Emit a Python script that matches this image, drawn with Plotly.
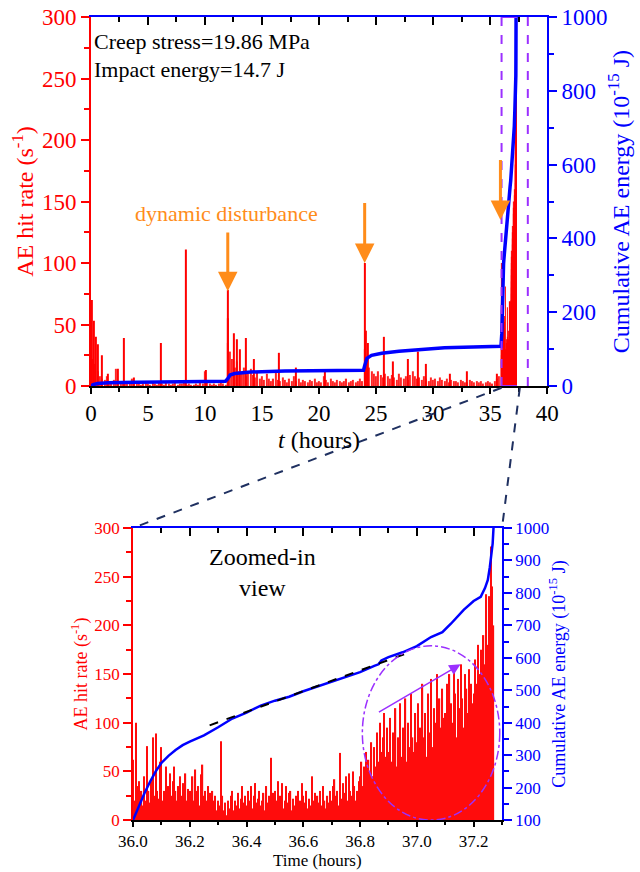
import numpy as np
import plotly.graph_objects as go

RED = "#FF0000"
BLUE = "#0000FF"
ORANGE = "#FF8C1A"
VIOLET = "#9B30FF"
NAVY = "#1F3060"
FONT = "Liberation Serif"

# ---------------- Top chart data ----------------
# background AE hit rate, 0.2 h bins from 0 to 35.8 h
top_bg_vals = [
    30, 22, 18, 12, 8,   6, 5, 8, 4, 3,    5, 14, 4, 3, 2,   3, 2, 4, 6, 2,
    2, 3, 1, 2, 3,       2, 1, 3, 2, 1,    4, 2, 1, 3, 2,    1, 2, 3, 1, 2,
    2, 3, 1, 2, 1,       1, 2, 1, 3, 2,    12, 3, 2, 1, 2,   1, 2, 3, 2, 1,
    35, 28, 22, 15, 20,  12, 10, 15, 8, 10, 14, 9, 7, 12, 6,  8, 5, 10, 6, 4,
    6, 12, 5, 4, 7,      5, 3, 6, 4, 8,    4, 6, 3, 5, 4,    3, 5, 4, 6, 3,
    4, 3, 8, 5, 3,       6, 4, 3, 5, 4,    3, 4, 6, 3, 4,    5, 3, 4, 6, 4,
    30, 20, 15, 12, 10,  8, 12, 9, 7, 10,  8, 6, 9, 7, 5,    10, 7, 6, 8, 5,
    9, 12, 8, 6, 7,      5, 8, 6, 4, 7,    5, 6, 4, 7, 5,    4, 6, 3, 5, 4,
    4, 3, 5, 4, 3,       3, 5, 4, 3, 4,    3, 4, 2, 3, 4,    3, 2, 4, 6, 8,
]
top_bg_step = 0.2

# isolated spikes (time h, hit rate)
spike_t = [0.1, 0.3, 0.45, 0.6, 1.0, 1.5, 2.4, 2.85, 3.8, 6.1, 8.35, 10.1,
           12.0, 12.05, 12.5, 12.8, 13.1, 13.6, 14.3, 16.5, 18.0, 20.5,
           24.0, 24.1, 24.3, 25.7, 26.5, 27.8, 28.7, 29.4, 31.5, 33.0, 35.6]
spike_v = [70, 53, 40, 34, 25, 10, 14, 39, 7, 35, 111, 13,
           78, 55, 43, 38, 30, 39, 22, 27, 15, 12,
           100, 45, 35, 40, 20, 22, 28, 18, 10, 12, 10]

# cumulative AE energy before 36 h
top_E_t = [0, 0.2, 0.6, 1.5, 4, 8, 11.8, 12.0, 12.2, 12.6, 14, 17, 20, 23.9,
           24.0, 24.2, 24.6, 25.5, 27, 29, 31, 33.5, 35.95]
top_E = [0, 4, 7, 9, 10, 12, 13, 20, 30, 34, 38, 41, 42, 43,
         55, 75, 83, 89, 94, 100, 104, 106, 108]

# ---------------- Zoomed data (36.0 - 37.27 h), 0.005 h bins ----------------
zoom_vals = [
    62, 20, 100, 35, 40, 25, 30, 15, 45, 20, 76, 30, 18, 40, 85, 25, 89, 30, 22, 60,
    75, 20, 30, 55, 15, 35, 48, 25, 40, 55, 30, 20, 35, 45, 25, 38, 30, 48, 20, 32,
    30, 25, 45, 20, 52, 30, 35, 15, 47, 57, 25, 30, 20, 35, 28, 15, 30, 20, 25, 10,
    20, 15, 81, 25, 10, 18, 5, 20, 12, 25, 30, 10, 20, 15, 28, 12, 22, 35, 18, 25,
    15, 30, 20, 35, 12, 25, 38, 18, 22, 30, 15, 20, 28, 10, 35, 18, 25, 64, 20, 28,
    30, 20, 40, 15, 25, 38, 12, 20, 35, 18, 28, 30, 10, 22, 15, 25, 30, 12, 20, 38,
    25, 18, 30, 12, 22, 15, 45, 20, 28, 10, 25, 18, 30, 15, 35, 20, 12, 25, 18, 30,
    20, 35, 42, 25, 30, 15, 69, 22, 38, 28, 45, 20, 48, 30, 25, 50, 35, 20, 30, 40,
    45, 60, 35, 55, 70, 40, 62, 50, 80, 45, 75, 55, 90, 60, 100, 70, 85, 110, 65, 95,
    70, 105, 60, 90, 75, 115, 55, 85, 120, 65, 95, 80, 125, 60, 100, 75, 130, 85, 70, 110,
    80, 120, 95, 70, 140, 85, 110, 65, 130, 90, 145, 75, 115, 100, 150, 80, 125, 95, 135, 105,
    110, 140, 90, 150, 120, 100, 155, 130, 85, 145, 115, 160, 125, 95, 150, 135, 110, 155, 140, 120,
    130, 165, 140, 180, 150, 175, 145, 190, 160, 232, 180, 230, 281, 240, 200,
]
zoom_start = 36.0
zoom_step = 0.005

zoom_E_t = [36.0, 36.02, 36.04, 36.06, 36.08, 36.1, 36.125, 36.15, 36.175, 36.2,
            36.25, 36.3, 36.35, 36.4, 36.45, 36.5, 36.55, 36.6, 36.65, 36.7,
            36.75, 36.8, 36.85, 36.865, 36.875, 36.9, 36.95, 37.0, 37.05, 37.09,
            37.12, 37.165, 37.2, 37.225, 37.24, 37.25, 37.257, 37.263, 37.267, 37.27]
zoom_E = [100, 142, 182, 218, 250, 276, 298, 316, 331, 342,
          361, 386, 413, 431, 453, 468, 480, 497, 512, 527,
          541, 556, 575, 580, 592, 602, 617, 636, 664, 679,
          705, 748, 775, 788, 815, 840, 879, 915, 952, 1000]

# linear fit (black dashed) in zoom view
fit_t = [36.27, 36.965]
fit_E = [392, 614]

# ---------------- layout geometry ----------------
TX = [0.142, 0.855]
TY = [0.5573, 0.9805]
BX = [0.2078, 0.7844]
BY = [0.0595, 0.3945]

top_bg_t = np.arange(len(top_bg_vals)) * top_bg_step
zoom_t = zoom_start + np.arange(len(zoom_vals)) * zoom_step

fig = go.Figure()

# top chart bars
fig.add_trace(go.Bar(x=top_bg_t, y=top_bg_vals, width=0.1, marker=dict(color=RED, line=dict(width=0)),
                     opacity=0.85, xaxis="x", yaxis="y", showlegend=False))
fig.add_trace(go.Bar(x=spike_t, y=spike_v, width=0.09, marker=dict(color=RED, line=dict(width=0)),
                     xaxis="x", yaxis="y", showlegend=False))
fig.add_trace(go.Bar(x=zoom_t, y=zoom_vals, width=zoom_step, marker=dict(color=RED, line=dict(width=0)),
                     xaxis="x", yaxis="y", showlegend=False))
# top chart cumulative energy
fig.add_trace(go.Scatter(x=list(top_E_t) + zoom_E_t[1:], y=list(top_E) + zoom_E[1:], mode="lines",
                         line=dict(color=BLUE, width=3.5), xaxis="x", yaxis="y2", showlegend=False))
# dummy for top mirror axis
fig.add_trace(go.Scatter(x=[0], y=[0], mode="markers", marker=dict(opacity=0), xaxis="x3", yaxis="y",
                         showlegend=False, hoverinfo="skip"))

# bottom chart bars
fig.add_trace(go.Bar(x=zoom_t, y=zoom_vals, width=0.0045, marker=dict(color=RED, line=dict(width=0)),
                     opacity=0.95, xaxis="x2", yaxis="y3", showlegend=False))
fig.add_trace(go.Scatter(x=zoom_E_t, y=zoom_E, mode="lines", line=dict(color=BLUE, width=2.5),
                         xaxis="x2", yaxis="y4", showlegend=False))
fig.add_trace(go.Scatter(x=fit_t, y=fit_E, mode="lines", line=dict(color="black", width=2, dash="dash"),
                         xaxis="x2", yaxis="y4", showlegend=False))
fig.add_trace(go.Scatter(x=[36.5], y=[0], mode="markers", marker=dict(opacity=0), xaxis="x4", yaxis="y3",
                         showlegend=False, hoverinfo="skip"))


def ax(color, size, **kw):
    d = dict(showgrid=False, zeroline=False, showline=True, linecolor=color, linewidth=1.5,
             ticks="outside", tickcolor=color, tickwidth=1.5, ticklen=8, automargin=False,
             tickfont=dict(family=FONT, size=size, color=color))
    d.update(kw)
    return d


TT = 23   # top tick font
TTL = 24  # top title font
BT = 17   # bottom tick font
BTL = 17  # bottom title font

layout = dict(
    width=640, height=872, margin=dict(l=0, r=0, t=0, b=0),
    paper_bgcolor="white", plot_bgcolor="rgba(0,0,0,0)",
    barmode="overlay", font=dict(family=FONT),
    xaxis=ax("black", TT, domain=TX, anchor="y", range=[0, 40], tick0=0, dtick=5, ticklen=6,
             minor=dict(ticks="outside", dtick=2.5, ticklen=4, tickcolor="black")),
    yaxis=ax(RED, TT, domain=TY, anchor="x", range=[0, 300], dtick=50,
             minor=dict(ticks="outside", dtick=25, ticklen=5, tickcolor=RED),
             title=dict(text="AE hit rate (s<sup>-1</sup>)", font=dict(family=FONT, size=TTL, color=RED), standoff=2)),
    yaxis2=ax(BLUE, TT, overlaying="y", side="right", anchor="x", range=[0, 1000], dtick=200,
              minor=dict(ticks="outside", dtick=100, ticklen=5, tickcolor=BLUE),
              title=dict(text="Cumulative AE energy (10<sup>-15</sup> J)", font=dict(family=FONT, size=TTL, color=BLUE), standoff=6)),
    xaxis3=ax(BLUE, TT, overlaying="x", side="top", anchor="y", range=[0, 40], dtick=5, ticks="inside",
              tickcolor="black", showticklabels=False,
              minor=dict(ticks="inside", dtick=2.5, ticklen=5, tickcolor="black")),
    xaxis2=ax("black", BT, domain=BX, anchor="y3", range=[36.0, 37.3], tick0=36.0, dtick=0.2, tickformat=".1f",
              ticklen=5, minor=dict(ticks="outside", dtick=0.1, ticklen=3, tickcolor="black")),
    yaxis3=ax(RED, BT, domain=BY, anchor="x2", range=[0, 300], dtick=50,
              minor=dict(ticks="outside", dtick=25, ticklen=5, tickcolor=RED),
              title=dict(text="AE hit rate (s<sup>-1</sup>)", font=dict(family=FONT, size=18, color=RED), standoff=2)),
    yaxis4=ax(BLUE, BT, overlaying="y3", side="right", anchor="x2", range=[100, 1000], dtick=100,
              minor=dict(ticks="outside", dtick=50, ticklen=5, tickcolor=BLUE),
              title=dict(text="Cumulative AE energy (10<sup>-15</sup> J)", font=dict(family=FONT, size=18, color=BLUE), standoff=4)),
    xaxis4=ax(BLUE, BT, overlaying="x2", side="top", anchor="y3", range=[36.0, 37.3], dtick=0.2, tick0=36.0,
              ticks="inside", tickcolor="black", showticklabels=False,
              minor=dict(ticks="inside", dtick=0.1, ticklen=5, tickcolor="black")),
)
fig.update_layout(**layout)

# x-axis titles as paper-anchored texts below the tick labels
fig.add_annotation(x=(TX[0] + TX[1]) / 2, y=1 - 440 / 872, xref="paper", yref="paper", showarrow=False,
                   yanchor="middle", text="<i>t</i> (hours)", font=dict(family=FONT, size=TTL, color="black"))
fig.add_annotation(x=(BX[0] + BX[1]) / 2, y=0, xref="paper", yref="paper", showarrow=False,
                   yanchor="bottom", text="Time (hours)", font=dict(family=FONT, size=BTL, color="black"))

# top-chart texts
fig.add_annotation(x=0.1, y=280, xref="x", yref="y", text="Creep stress=19.86 MPa", showarrow=False,
                   xanchor="left", font=dict(family=FONT, size=22, color="black"))
fig.add_annotation(x=0.1, y=257, xref="x", yref="y", text="Impact energy=14.7 J", showarrow=False,
                   xanchor="left", font=dict(family=FONT, size=22, color="black"))
fig.add_annotation(x=11.9, y=140, xref="x", yref="y", text="dynamic disturbance", showarrow=False,
                   font=dict(family=FONT, size=22, color=ORANGE))

# orange arrows
arrow_x = [12.0, 24.0, 35.9]
arrow_tip = [77, 100, 135]
arrow_tail = [126, 150, 185]
for xa, tip, tail in zip(arrow_x, arrow_tip, arrow_tail):
    fig.add_annotation(x=xa, y=tip, ax=xa, ay=tail, xref="x", yref="y", axref="x", ayref="y",
                       showarrow=True, arrowhead=2, arrowsize=1.3, arrowwidth=3, arrowcolor=ORANGE, text="")

# violet dashed lines in top chart
for xv in [36.0, 38.3]:
    fig.add_shape(type="line", x0=xv, x1=xv, y0=0, y1=300, xref="x", yref="y",
                  line=dict(color=VIOLET, width=2, dash="dash"))
fig.add_shape(type="line", x0=36.0, x1=37.35, y0=300, y1=300, xref="x", yref="y", line=dict(color=VIOLET, width=2))
fig.add_shape(type="line", x0=36.0, x1=37.35, y0=0, y1=0, xref="x", yref="y", line=dict(color=VIOLET, width=2))

# connector dashed lines (paper coords derived from domains)
def top_px(xv):
    return TX[0] + xv / 40 * (TX[1] - TX[0])

fig.add_shape(type="line", xref="paper", yref="paper", x0=top_px(36.0), y0=TY[0] - 0.002, x1=BX[0], y1=BY[1],
              line=dict(color=NAVY, width=2, dash="dash"))
fig.add_shape(type="line", xref="paper", yref="paper", x0=top_px(37.6), y0=TY[0] - 0.002, x1=BX[1], y1=BY[1],
              line=dict(color=NAVY, width=2, dash="dash"))

# zoom view annotations
fig.add_annotation(x=36.455, y=254, xref="x2", yref="y3", text="Zoomed-in<br>view", showarrow=False,
                   font=dict(family=FONT, size=24, color="black"))
fig.add_shape(type="circle", xref="x2", yref="y3", x0=36.808, x1=37.292, y0=0, y1=179,
              line=dict(color=VIOLET, width=1.5, dash="dashdot"))
fig.add_annotation(x=37.154, y=160, ax=36.861, ay=110, xref="x2", yref="y3", axref="x2", ayref="y3",
                   showarrow=True, arrowhead=2, arrowsize=1.5, arrowwidth=1.5, arrowcolor=VIOLET, text="")

fig.write_html("out.html")
